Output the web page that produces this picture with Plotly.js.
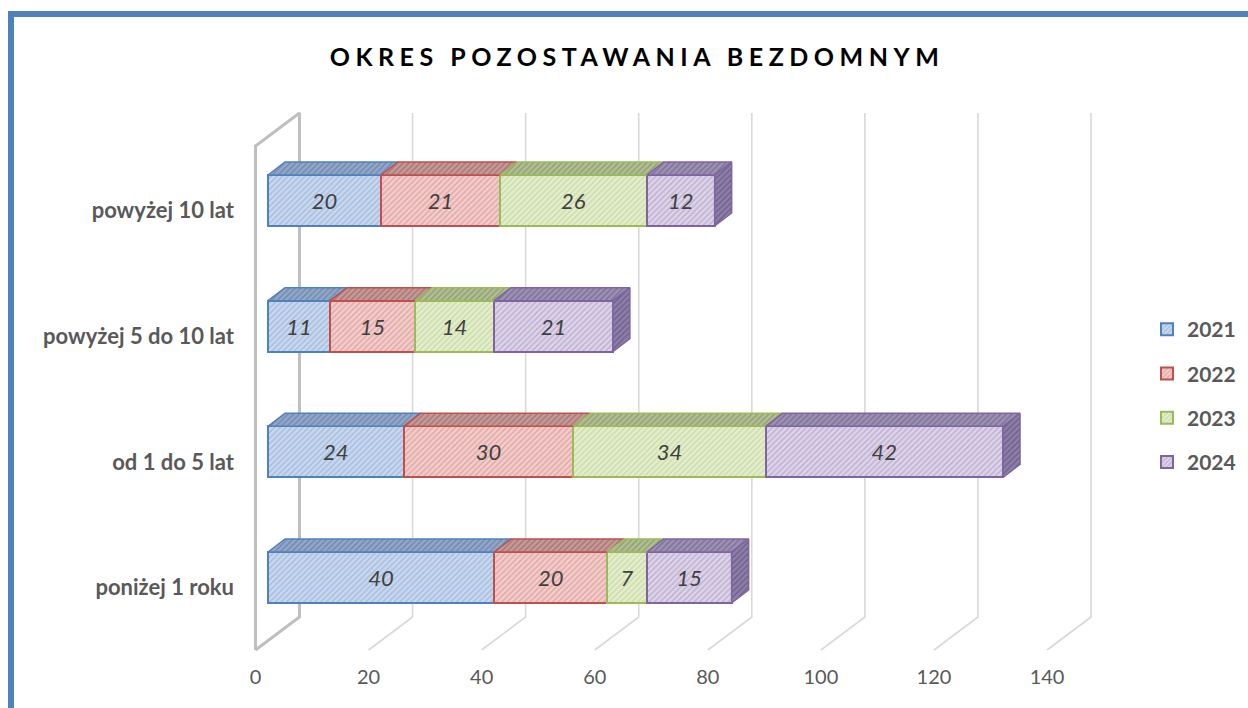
<!DOCTYPE html>
<html>
<head>
<meta charset="utf-8">
<script src="https://cdn.plot.ly/plotly-3.0.1.min.js"></script>
<style>
  html, body { margin: 0; padding: 0; background: #ffffff; }
  #wrap { position: relative; width: 1248px; height: 708px; overflow: hidden; }
  #chart { position: absolute; left: 0; top: 0; width: 1248px; height: 708px; }
  #frame { position: absolute; left: 8px; top: 11px; width: 1300px; height: 760px;
           border-top: 6px solid #4F81BD; border-left: 6px solid #4F81BD; pointer-events: none; }
  .gtitle { letter-spacing: 5.5px; }
</style>
</head>
<body>
<div id="wrap">
  <div id="chart"></div>
  <div id="frame"></div>
</div>
<script>
// ---------- data ----------
const categories = ['poniżej 1 roku', 'od 1 do 5 lat', 'powyżej 5 do 10 lat', 'powyżej 10 lat'];
const years = ['2021', '2022', '2023', '2024'];
const values2021 = [40, 24, 11, 20];
const values2022 = [20, 30, 15, 21];
const values2023 = [7, 34, 14, 26];
const values2024 = [15, 42, 21, 12];
const xTickValues = [0, 20, 40, 60, 80, 100, 120, 140];
const chartTitle = 'OKRES POZOSTAWANIA BEZDOMNYM';

const seriesValues = [values2021, values2022, values2023, values2024];

// ---------- styling ----------
const FONT = 'Lato, "Open Sans", sans-serif';
const styles = [
  { line: '#4F81BD', bg: '#C9D8EE', fg: '#A3BBDD', topBg: '#93A8C9', topFg: '#6F86AD' },
  { line: '#C0504D', bg: '#F2CDCC', fg: '#E0A5A3', topBg: '#C59B9A', topFg: '#A57371' },
  { line: '#9BBB59', bg: '#E4EECF', fg: '#CADBA5', topBg: '#B2BF96', topFg: '#8E9E6C' },
  { line: '#8064A2', bg: '#DDD4E8', fg: '#BBADD1', topBg: '#9D92B3', topFg: '#7B6E96' }
];
const sideStyle = { bg: '#8D7FA8', fg: '#6C5E8A' };

// ---------- pixel geometry (layout only) ----------
const PL = 240, PR = 1110, PT = 100, PB = 660;
const SX = 5.654;          // px per unit value
const SY = 125.67;         // px per category step
const baseX0 = 255.5, baseY0 = 587.5;   // front plane origin (ticks / labels)
const barX0 = 268, barY0 = 577.5;       // bar front faces origin
const DEPTH_X = 44, DEPTH_Y = 33;       // full floor depth in px
const FLOOR_FRONT_PX = 650, WALL_TOP_PX = 113;
const BAR_DX = 17, BAR_DY = 13, BAR_H = 51;

function xRange(x0) { return [(PL - x0) / SX, (PR - x0) / SX]; }
function yRange(y0) { return [(y0 - PB) / SY, (y0 - PT) / SY]; }

const traces = [];

// ---------- grid & wall (base subplot) ----------
const ddx = DEPTH_X / SX, ddy = DEPTH_Y / SY;
const yFF = (baseY0 - FLOOR_FRONT_PX) / SY;
const yTB = (baseY0 - WALL_TOP_PX) / SY;
const gx = [], gy = [];
xTickValues.forEach(t => {
  if (t === 0) return;
  gx.push(t, t + ddx, t + ddx, null);
  gy.push(yFF, yFF + ddy, yTB, null);
});
traces.push({
  type: 'scatter', mode: 'lines', x: gx, y: gy, xaxis: 'x', yaxis: 'y',
  line: { color: '#D9D9D9', width: 1.6 }, showlegend: false, hoverinfo: 'skip'
});
traces.push({
  type: 'scatter', mode: 'lines', xaxis: 'x', yaxis: 'y',
  x: [0, ddx, ddx, 0, 0], y: [yFF, yFF + ddy, yTB, yTB - ddy, yFF],
  line: { color: '#BFBFBF', width: 3 }, showlegend: false, hoverinfo: 'skip'
});

// ---------- bars (overlay subplot) ----------
const catIdx = categories.map((c, i) => i);
seriesValues.forEach((vals, s) => {
  const st = styles[s];
  traces.push({
    type: 'bar', orientation: 'h', name: years[s], legendgroup: years[s],
    x: vals, y: catIdx, xaxis: 'x2', yaxis: 'y2',
    width: BAR_H / SY,
    text: vals.map(String), textposition: 'inside', insidetextanchor: 'middle', textangle: 0,
    insidetextfont: { family: FONT, size: 22, color: '#404040', style: 'italic' },
    marker: {
      color: st.bg,
      line: { color: st.line, width: 2 },
      pattern: { shape: '/', bgcolor: st.bg, fgcolor: st.fg, size: 4, solidity: 0.35 }
    },
    hoverinfo: 'skip'
  });
});

// top faces
const bdx = BAR_DX / SX, bdy = BAR_DY / SY, hw = BAR_H / SY / 2;
const cum = categories.map(() => 0);
seriesValues.forEach((vals, s) => {
  const st = styles[s];
  const tx = [], ty = [];
  vals.forEach((v, i) => {
    const a = cum[i], b = cum[i] + v;
    tx.push(a, b, b + bdx, a + bdx, a, null);
    ty.push(i + hw, i + hw, i + hw + bdy, i + hw + bdy, i + hw, null);
    cum[i] = b;
  });
  traces.push({
    type: 'scatter', mode: 'lines', x: tx, y: ty, xaxis: 'x2', yaxis: 'y2',
    fill: 'toself', fillcolor: st.topBg,
    fillpattern: { shape: '/', bgcolor: st.topBg, fgcolor: st.topFg, size: 4, solidity: 0.35 },
    line: { color: st.line, width: 1.5 }, showlegend: false, hoverinfo: 'skip', legendgroup: years[s]
  });
});
// side faces at stack ends
const sx = [], sy = [];
cum.forEach((T, i) => {
  sx.push(T, T + bdx, T + bdx, T, T, null);
  sy.push(i - hw, i - hw + bdy, i + hw + bdy, i + hw, i - hw, null);
});
traces.push({
  type: 'scatter', mode: 'lines', x: sx, y: sy, xaxis: 'x2', yaxis: 'y2',
  fill: 'toself', fillcolor: sideStyle.bg,
  fillpattern: { shape: '/', bgcolor: sideStyle.bg, fgcolor: sideStyle.fg, size: 4, solidity: 0.35 },
  line: { color: styles[3].line, width: 1.5 }, showlegend: false, hoverinfo: 'skip', legendgroup: years[3]
});

const layout = {
  width: 1248, height: 708,
  margin: { l: PL, r: 1248 - PR, t: PT, b: 708 - PB, pad: 0, autoexpand: false },
  paper_bgcolor: 'rgba(0,0,0,0)', plot_bgcolor: 'rgba(0,0,0,0)',
  barmode: 'stack', hovermode: false, bargap: 0,
  font: { family: FONT, color: '#595959' },
  title: {
    text: chartTitle, xref: 'container', x: 637 / 1248, xanchor: 'center',
    yref: 'container', y: 1 - 57 / 708, yanchor: 'middle',
    font: { family: FONT, size: 25, weight: 'bold', color: '#000000' }
  },
  xaxis: {
    range: xRange(baseX0), tickvals: xTickValues, ticktext: xTickValues.map(String),
    showgrid: false, zeroline: false, showline: false, ticks: '', ticklabelstandoff: 3,
    tickfont: { family: FONT, size: 20, color: '#595959' }, fixedrange: true
  },
  yaxis: {
    range: yRange(baseY0), tickvals: catIdx, ticktext: categories,
    showgrid: false, zeroline: false, showline: false, ticks: '', ticklabelstandoff: 5,
    tickfont: { family: FONT, size: 22, color: '#595959', weight: 'bold' }, fixedrange: true
  },
  xaxis2: {
    overlaying: 'x', anchor: 'y2', range: xRange(barX0),
    showgrid: false, zeroline: false, showline: false, showticklabels: false, ticks: '', fixedrange: true
  },
  yaxis2: {
    overlaying: 'y', anchor: 'x2', range: yRange(barY0),
    showgrid: false, zeroline: false, showline: false, showticklabels: false, ticks: '', fixedrange: true
  },
  showlegend: true,
  legend: {
    x: (1147 - PL) / (PR - PL), xanchor: 'left',
    y: (PB - 309) / (PB - PT), yanchor: 'top',
    traceorder: 'grouped', tracegroupgap: 14,
    font: { family: FONT, size: 21, color: '#595959', weight: 'bold' },
    bgcolor: 'rgba(0,0,0,0)'
  }
};

Plotly.newPlot('chart', traces, layout, { displayModeBar: false, staticPlot: true });
</script>
</body>
</html>
